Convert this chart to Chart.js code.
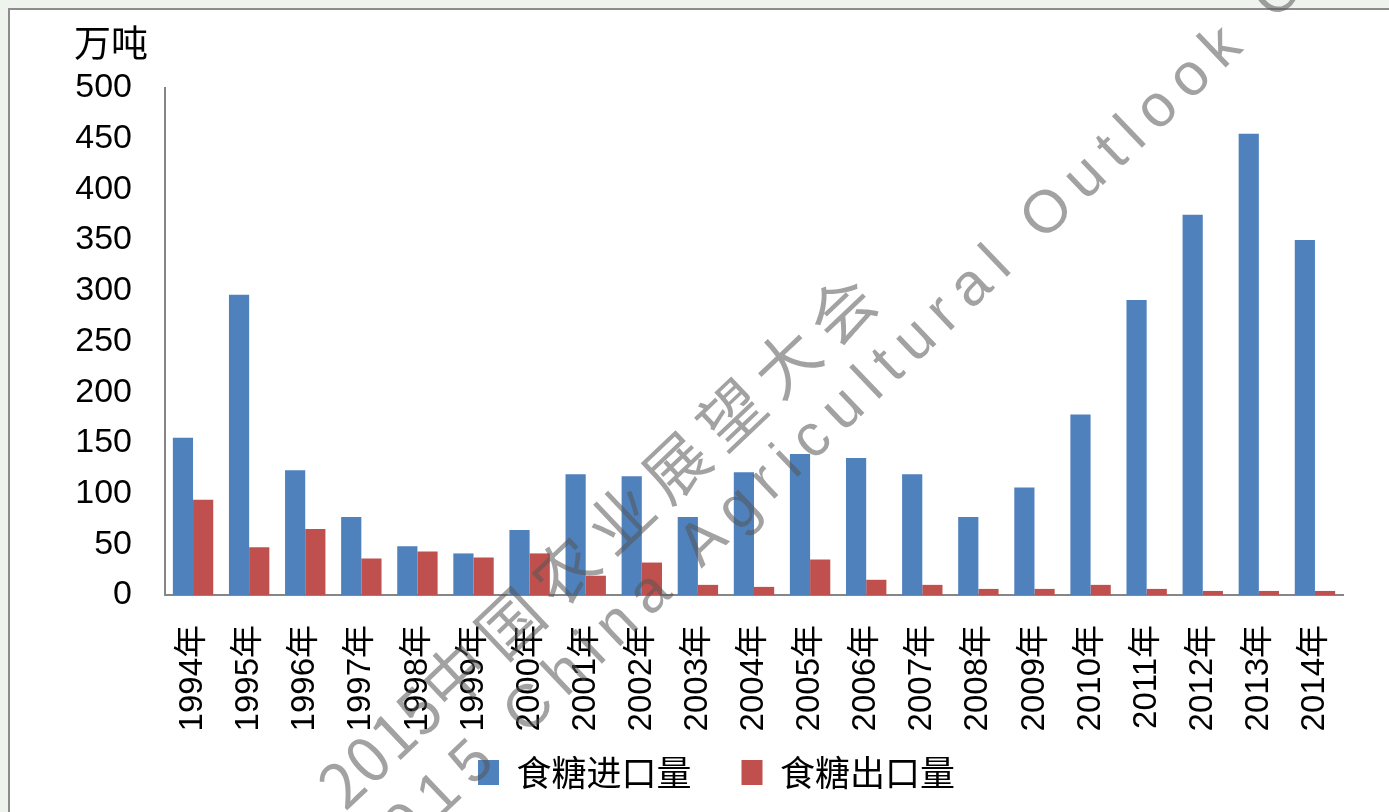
<!DOCTYPE html>
<html>
<head>
<meta charset="utf-8">
<script src="https://cdn.jsdelivr.net/npm/chart.js@4.4.0/dist/chart.umd.min.js"></script>
<style>
  html, body { margin: 0; padding: 0; width: 1389px; height: 812px; overflow: hidden; background: #eef3ee; }
  #frame { position: absolute; left: 8px; top: 8px; width: 1400px; height: 820px; border-left: 2px solid #8c8c8c; border-top: 2px solid #8c8c8c; background: #fff; }
  #box { position: absolute; left: 10px; top: 10px; width: 1379px; height: 802px; }
  #unit { position: absolute; left: 74px; top: 14px; font: 37px "Noto Sans CJK SC", sans-serif; color: #000; }
  .wm { position: absolute; white-space: nowrap; line-height: 1; color: rgba(85, 85, 85, 0.55); transform-origin: 0 50%; pointer-events: none; }
  #wm1 { font: 64px "Noto Sans CJK SC", sans-serif; letter-spacing: 12px; }
  #wm1 span { letter-spacing: 1px; font-size: 62px; }
  #wm2 { font: 60px "Liberation Sans", sans-serif; letter-spacing: 12px; }
</style>
</head>
<body>
<div id="frame"></div>
<div id="box"><canvas id="grafico"></canvas></div>
<div id="unit">万吨</div>
<div class="wm" id="wm1"><span>2015</span>中国农业展望大会</div>
<div class="wm" id="wm2">2015 China Agricultural Outlook Conference</div>
<script>
// dados (10 mil toneladas)
var anos = ["1994年", "1995年", "1996年", "1997年", "1998年", "1999年", "2000年", "2001年", "2002年", "2003年", "2004年",
    "2005年", "2006年", "2007年", "2008年", "2009年", "2010年", "2011年", "2012年", "2013年", "2014年"]
var importacao = [155, 296, 123, 77, 48, 41, 64, 119, 117, 77, 121, 139, 135, 119, 77, 106, 178, 291, 375, 455, 350]
var exportacao = [94, 47, 65, 36, 43, 37, 41, 19, 32, 10, 8, 35, 15, 10, 6, 6, 10, 6, 4, 4, 4]
var nomes = ["食糖进口量", "食糖出口量"]
var eixoY = { min: 0, max: 500, passo: 50 }

// posiciona a marca d'agua ao longo da diagonal
function marca(id, x, y, ang) {
    var el = document.getElementById(id)
    var h = parseFloat(getComputedStyle(el).fontSize)
    el.style.left = x + "px"
    el.style.top = (y - h / 2) + "px"
    el.style.transform = "rotate(" + ang + "deg)"
}
marca("wm1", 326, 778, -43.4)
marca("wm2", 360, 862, -43.7)

var fonteNum = "'Liberation Sans', 'Noto Sans CJK SC', sans-serif"

// empurra a legenda para a mesma posicao do original
var moverLegenda = {
    id: 'moverLegenda',
    afterLayout: function (chart) {
        var lg = chart.legend
        lg.left += 80
        lg.top -= 30
    }
}

function plotarGrafico() {
    const ctx = document.getElementById('grafico');

    new Chart(ctx, {
        type: 'bar',
        data: {
            labels: anos,
            datasets: [{
                label: nomes[0],
                data: importacao,
                backgroundColor: '#4f81bd',
                borderWidth: 0
            }, {
                label: nomes[1],
                data: exportacao,
                backgroundColor: '#c0504d',
                borderWidth: 0
            }]
        },
        options: {
            responsive: true,
            maintainAspectRatio: false,
            animation: false,
            categoryPercentage: 0.72,
            barPercentage: 1.0,
            layout: {
                padding: { top: 78, right: 46, bottom: 0, left: 0 }
            },
            plugins: {
                tooltip: { enabled: false },
                legend: {
                    position: 'bottom',
                    maxHeight: 77,
                    labels: {
                        boxWidth: 21,
                        boxHeight: 25,
                        padding: 50,
                        color: '#000',
                        font: { family: "'Noto Sans CJK SC', sans-serif", size: 35 }
                    }
                }
            },
            scales: {
                x: {
                    grid: { display: false, drawTicks: false },
                    border: { display: true, color: '#868686', width: 2 },
                    ticks: {
                        autoSkip: false,
                        minRotation: 90,
                        maxRotation: 90,
                        padding: 30,
                        color: '#000',
                        font: { family: fonteNum, size: 33 }
                    },
                    afterFit: function (s) { s.height = 140 }
                },
                y: {
                    min: eixoY.min,
                    max: eixoY.max,
                    grid: { display: false, drawTicks: false },
                    border: { display: true, color: '#868686', width: 2 },
                    ticks: {
                        stepSize: eixoY.passo,
                        padding: 33,
                        color: '#000',
                        font: { family: fonteNum, size: 34 }
                    },
                    afterFit: function (s) { s.width = 155 }
                }
            }
        },
        plugins: [moverLegenda]
    });
}

plotarGrafico()
</script>
</body>
</html>
